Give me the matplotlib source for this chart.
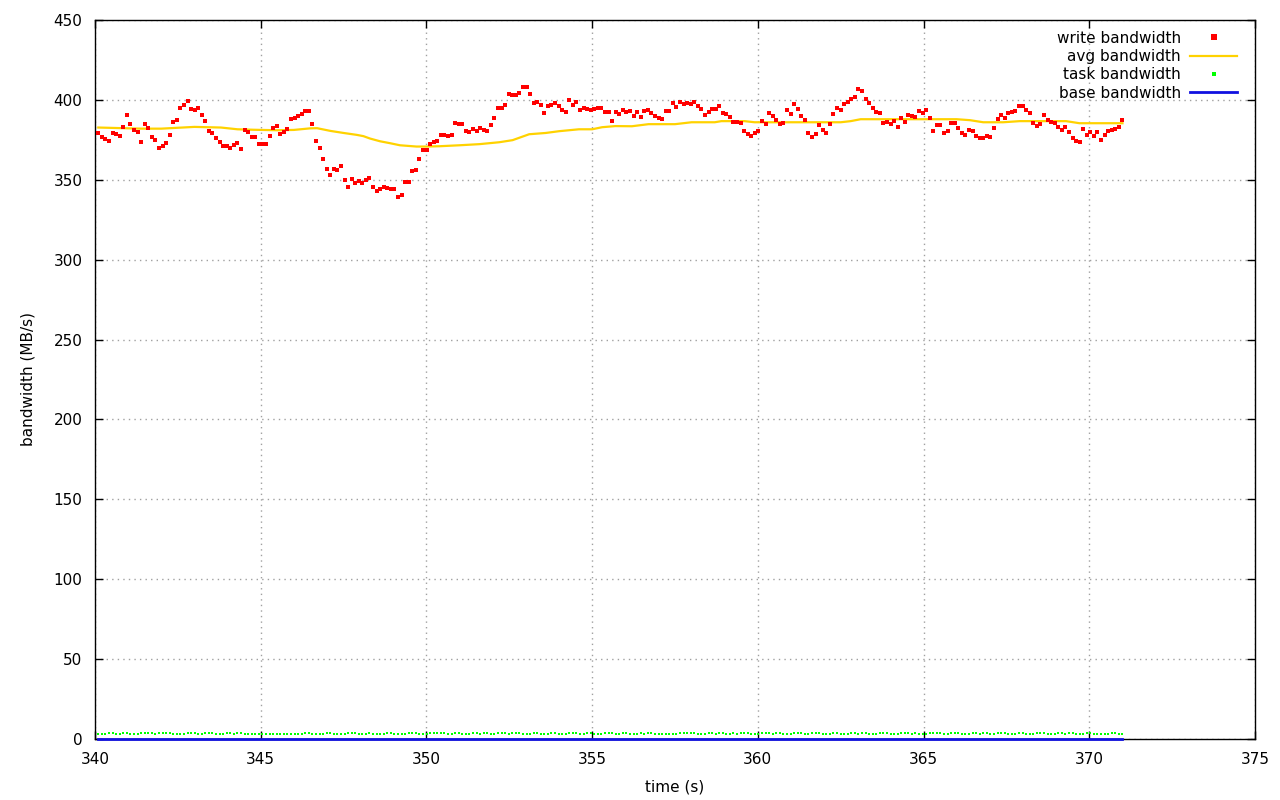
import numpy as np
import matplotlib
matplotlib.use("Agg")
import matplotlib.pyplot as plt

# write bandwidth samples (MB/s), 340.1 s .. 371.0 s
write_bw = [
    379.2, 376.6, 375.4, 374.1, 379.3, 378.5, 377.1, 382.9, 390.6, 385.0, 381.4, 379.8,
    373.7, 385.0, 382.3, 376.6, 374.8, 369.8, 371.0, 372.9, 377.9, 386.0, 387.3, 394.8,
    396.7, 399.2, 394.4, 393.5, 394.8, 390.6, 386.7, 380.6, 379.3, 376.0, 373.7, 371.0,
    371.0, 369.8, 371.6, 373.1, 369.1, 381.2, 379.8, 376.6, 376.6, 372.3, 372.3, 372.3,
    377.3, 382.3, 383.5, 378.5, 380.2, 381.6, 387.9, 388.5, 390.0, 391.2, 393.1, 393.1,
    384.8, 374.1, 370.2, 362.9, 356.6, 352.9, 356.6, 356.0, 358.5, 349.9, 345.3, 350.4,
    347.9, 349.3, 347.9, 349.9, 351.0, 345.3, 342.8, 344.3, 345.6, 344.9, 344.1, 344.1,
    339.1, 340.3, 348.5, 348.5, 355.6, 356.2, 362.9, 368.5, 368.5, 372.5, 373.5, 374.1,
    377.9, 377.9, 377.1, 377.9, 385.4, 384.8, 384.8, 380.4, 379.8, 381.6, 380.4, 382.3,
    381.0, 380.4, 384.1, 388.5, 394.8, 394.8, 396.7, 403.5, 402.9, 402.9, 404.2, 408.1,
    408.1, 403.5, 397.9, 398.5, 396.7, 391.7, 396.0, 396.7, 397.9, 396.0, 393.5, 392.3,
    399.8, 396.7, 398.5, 393.5, 394.8, 394.2, 393.5, 394.2, 394.8, 394.8, 392.3, 392.3,
    386.7,
    392.3, 391.0, 393.5, 392.3, 392.9, 389.8, 392.3, 389.2, 392.9, 393.5, 391.7, 389.8,
    388.5, 387.9, 392.9, 392.9, 397.9, 395.4, 398.5, 397.3, 397.9, 397.3, 398.5, 396.0,
    394.2, 390.4, 392.3, 394.2, 394.2, 396.0, 391.7, 391.0, 389.2, 386.0, 386.0, 385.4,
    380.4,
    378.5, 377.3, 379.1, 380.4, 386.7, 384.8, 391.7, 389.8, 387.3, 384.8, 385.4, 393.5,
    391.0, 397.3, 394.2, 389.8, 387.3, 379.1, 376.6, 378.5, 384.1, 381.0, 379.1, 384.8,
    391.0, 394.8, 393.5, 397.3, 398.5, 400.4, 401.7, 406.9, 405.4, 400.4, 397.9, 394.8,
    392.3, 391.7, 385.4, 386.0, 384.8, 386.7, 382.9, 388.5, 386.0, 390.4, 389.8, 389.2,
    392.9, 391.7, 393.5, 388.5, 380.4, 384.1, 384.1, 379.1, 380.4, 385.4, 385.4, 382.3,
    379.1, 377.9, 381.0, 380.4, 377.3, 376.0, 376.0, 377.3, 376.6, 382.3, 387.9, 390.4,
    388.5, 391.7, 392.3, 392.9, 396.0, 396.0, 393.5, 391.7, 385.4, 383.5, 384.8, 390.4,
    387.3, 386.0, 385.4, 382.9, 381.0, 382.9, 379.8, 376.0, 374.1, 373.5, 381.6, 377.9,
    379.8, 377.3, 379.8, 374.8, 377.9, 380.4, 381.0, 381.6, 382.9, 387.3,
]

# task bandwidth samples (MB/s), same sample times
task_bw = [
    3.2, 3.0, 3.2, 3.6, 3.6, 3.2, 3.4, 3.6, 3.6, 3.2, 3.0, 3.2, 3.6, 3.6, 3.6, 3.6, 3.4, 3.6,
    3.6, 3.6, 3.6, 3.2, 3.0, 3.2, 3.4, 3.6, 3.6, 3.6, 3.2, 3.4, 3.6, 3.6, 3.6, 3.2, 3.0, 3.2,
    3.6, 3.6, 3.4, 3.6, 3.6, 3.2, 3.2, 3.0, 3.2, 3.2, 3.2, 3.2, 3.4, 3.2, 3.0, 3.2, 3.2, 3.4,
    3.2, 3.0, 3.2, 3.2, 3.6, 3.6, 3.2, 3.0, 3.2, 3.4, 3.6, 3.6, 3.4, 3.2, 3.0, 3.2, 3.6, 3.6,
    3.6, 3.2, 3.4, 3.4, 3.6, 3.2, 3.0, 3.2, 3.4, 3.6, 3.6, 3.4, 3.2, 3.2, 3.4, 3.6, 3.6, 3.6,
    3.2, 3.0, 3.2, 3.6, 3.6, 3.6, 3.8, 3.6, 3.2, 3.4, 3.6, 3.6, 3.2, 3.0, 3.2, 3.6, 3.6, 3.4,
    3.6, 3.6, 3.2, 3.2, 3.6, 3.6, 3.6, 3.4, 3.6, 3.6, 3.6, 3.2, 3.0, 3.2, 3.6, 3.6, 3.4, 3.2,
    3.2, 3.6, 3.6, 3.4, 3.2, 3.2, 3.6, 3.6, 3.6, 3.2, 3.4, 3.6, 3.6, 3.2, 3.0, 3.2, 3.6, 3.6,
    3.6, 3.4, 3.2, 3.6, 3.6, 3.2, 3.0, 3.2, 3.6, 3.4, 3.6, 3.6, 3.2, 3.0, 3.2, 3.2, 3.4, 3.2,
    3.2, 3.6, 3.6, 3.8, 3.6, 3.6, 3.2, 3.0, 3.2, 3.6, 3.6, 3.4, 3.6, 3.6, 3.2, 3.2, 3.6, 3.4,
    3.6, 3.6, 3.6, 3.2, 3.0, 3.2, 3.6, 3.6, 3.6, 3.4, 3.6, 3.6, 3.2, 3.0, 3.2, 3.6, 3.6, 3.6,
    3.4, 3.2, 3.6, 3.6, 3.6, 3.2, 3.2, 3.4, 3.6, 3.6, 3.2, 3.0, 3.2, 3.6, 3.6, 3.4, 3.6, 3.6,
    3.2, 3.2, 3.4, 3.6, 3.6, 3.6, 3.2, 3.0, 3.2, 3.6, 3.6, 3.6, 3.4, 3.6, 3.2, 3.0, 3.2, 3.6,
    3.6, 3.6, 3.6, 3.2, 3.4, 3.6, 3.6, 3.6, 3.2, 3.0, 3.2, 3.6, 3.6, 3.4, 3.6, 3.6, 3.2, 3.2,
    3.6, 3.6, 3.6, 3.2, 3.0, 3.2, 3.6, 3.6, 3.4, 3.2, 3.2, 3.6, 3.6, 3.6, 3.2, 3.0, 3.2, 3.6,
    3.6, 3.4, 3.6, 3.6, 3.2, 3.0, 3.2, 3.6, 3.6, 3.2, 3.0, 3.2, 3.2, 3.4, 3.6, 3.6, 3.2, 3.4,
]

t_start, t_end = 340.1, 371.0

# moving average, sampled at breakpoints
avg_t = [340.1, 341.4, 342.0, 343.0, 343.8, 344.3, 344.8, 345.5, 346.0, 346.5, 346.7,
         347.1, 347.5, 347.9, 348.1, 348.3, 348.6, 348.9, 349.2, 349.7, 350.0, 350.4,
         351.0, 351.6, 352.2, 352.6, 353.1, 353.6, 354.0, 354.6, 355.0, 355.3, 355.7,
         356.2, 356.7, 357.5, 358.0, 358.7, 358.9, 359.6, 359.9, 362.5, 362.8, 363.1,
         366.0, 366.4, 366.8, 367.4, 367.9, 369.3, 369.7, 371.0]
avg_bw = [382.7, 382.0, 382.0, 383.1, 382.7, 381.6, 381.3, 381.0, 381.2, 382.2, 382.3,
          380.6, 379.3, 378.1, 377.3, 375.8, 374.1, 372.9, 371.6, 370.8, 370.8, 371.0,
          371.6, 372.3, 373.5, 374.8, 378.5, 379.3, 380.4, 381.6, 381.6, 382.9, 383.6,
          383.5, 384.8, 384.8, 386.0, 386.0, 386.7, 386.7, 386.0, 386.0, 386.7, 387.9,
          387.9, 387.3, 386.0, 386.0, 386.7, 386.7, 385.4, 385.4]

base_t = [340.1, 371.0]
base_bw = [0.0, 0.0]

t = np.linspace(t_start, t_end, len(write_bw))

plt.rcParams['font.family'] = ['DejaVu Sans']
plt.rcParams['font.size'] = 11

fig = plt.figure(figsize=(12.8, 8), dpi=100)
ax = fig.add_axes([0.0742, 0.07625, 0.9063, 0.89875])

ax.plot(t, write_bw, 's', color='#ff0000', markersize=3.2, markeredgewidth=0,
        label='write bandwidth', zorder=4)
ax.plot(avg_t, avg_bw, '-', color='#ffd200', linewidth=1.6, label='avg bandwidth', zorder=3)
ax.plot(t, task_bw, 's', color='#00ff00', markersize=1.9, markeredgewidth=0,
        label='task bandwidth', zorder=4)
ax.plot(base_t, base_bw, '-', color='#1010e0', linewidth=2, label='base bandwidth',
        zorder=5, clip_on=False)

ax.set_xlim(340, 375)
ax.set_ylim(0, 450)
ax.set_xticks(np.arange(340, 376, 5))
ax.set_yticks(np.arange(0, 451, 50))
ax.tick_params(direction='in', top=True, right=True, length=6, width=1)
ax.tick_params(axis='x', pad=9)
ax.tick_params(axis='y', pad=9)
ax.grid(True, color='#a0a0a0', linestyle=(0, (1, 3)), linewidth=1)
ax.set_axisbelow(True)
for s in ax.spines.values():
    s.set_linewidth(1)

ax.set_xlabel('time (s)', labelpad=9)
ax.set_ylabel('bandwidth (MB/s)', labelpad=13)

ax.legend(loc='upper right', bbox_to_anchor=(0.994, 1.0), frameon=False,
          markerfirst=False, handlelength=3.1, labelspacing=0.22, borderaxespad=0.5,
          borderpad=0.2, handletextpad=0.6, markerscale=1.3)

fig.savefig('out.png', dpi=100)
